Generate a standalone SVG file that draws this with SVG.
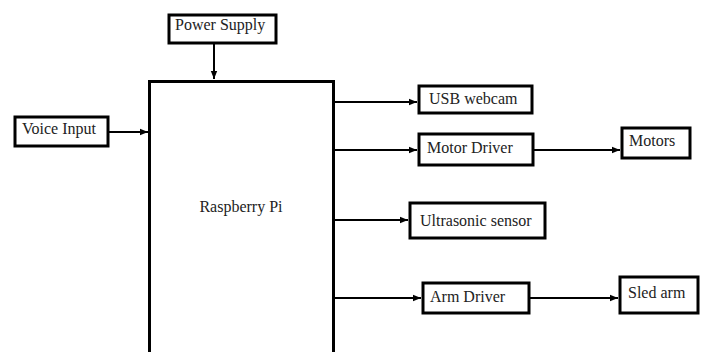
<svg xmlns="http://www.w3.org/2000/svg" width="703" height="352" viewBox="0 0 703 352">
<style>
.box{fill:#fff;stroke:#000;stroke-width:3}
.lbl{font-family:"Liberation Serif","Times New Roman",serif;font-size:16px;fill:#222}
.con{stroke:#000;stroke-width:2;fill:none}
</style>
<defs>
<marker id="ah" viewBox="0 0 10 10" refX="10" refY="5" markerWidth="4" markerHeight="4" orient="auto" markerUnits="strokeWidth">
<path d="M0,1 L10,5 L0,9 Z" fill="#000"/>
</marker>
</defs>
<rect width="703" height="352" fill="#fff"/>
<g id="raspberry-pi">
<path class="box" d="M149.5,356 V81.5 H333.5 V356"/>
<text class="lbl" x="241" y="212" text-anchor="middle">Raspberry Pi</text>
</g>
<g id="power-supply">
<rect class="box" x="169" y="15" width="107" height="28"/>
<text class="lbl" x="175" y="30">Power Supply</text>
</g>
<g id="voice-input">
<rect class="box" x="15" y="117" width="93" height="29"/>
<text class="lbl" x="22" y="134">Voice Input</text>
</g>
<g id="usb-webcam">
<rect class="box" x="419" y="86" width="113" height="27"/>
<text class="lbl" x="429" y="104">USB webcam</text>
</g>
<g id="motor-driver">
<rect class="box" x="419" y="134" width="114" height="31"/>
<text class="lbl" x="427" y="153">Motor Driver</text>
</g>
<g id="motors">
<rect class="box" x="622" y="128" width="68" height="30"/>
<text class="lbl" x="629" y="146">Motors</text>
</g>
<g id="ultrasonic-sensor">
<rect class="box" x="410" y="203" width="135" height="35"/>
<text class="lbl" x="420" y="226">Ultrasonic sensor</text>
</g>
<g id="arm-driver">
<rect class="box" x="423" y="283" width="106" height="30"/>
<text class="lbl" x="430" y="302">Arm Driver</text>
</g>
<g id="sled-arm">
<rect class="box" x="620" y="277" width="78" height="36"/>
<text class="lbl" x="628" y="298">Sled arm</text>
</g>
<g id="connectors">
<line class="con" x1="214" y1="43" x2="214" y2="79" marker-end="url(#ah)"/>
<line class="con" x1="108" y1="132" x2="148" y2="132" marker-end="url(#ah)"/>
<line class="con" x1="334" y1="102" x2="417" y2="102" marker-end="url(#ah)"/>
<line class="con" x1="334" y1="150" x2="417" y2="150" marker-end="url(#ah)"/>
<line class="con" x1="533" y1="150" x2="620" y2="150" marker-end="url(#ah)"/>
<line class="con" x1="334" y1="220" x2="408" y2="220" marker-end="url(#ah)"/>
<line class="con" x1="334" y1="298" x2="421" y2="298" marker-end="url(#ah)"/>
<line class="con" x1="529" y1="298" x2="618" y2="298" marker-end="url(#ah)"/>
</g>
</svg>
